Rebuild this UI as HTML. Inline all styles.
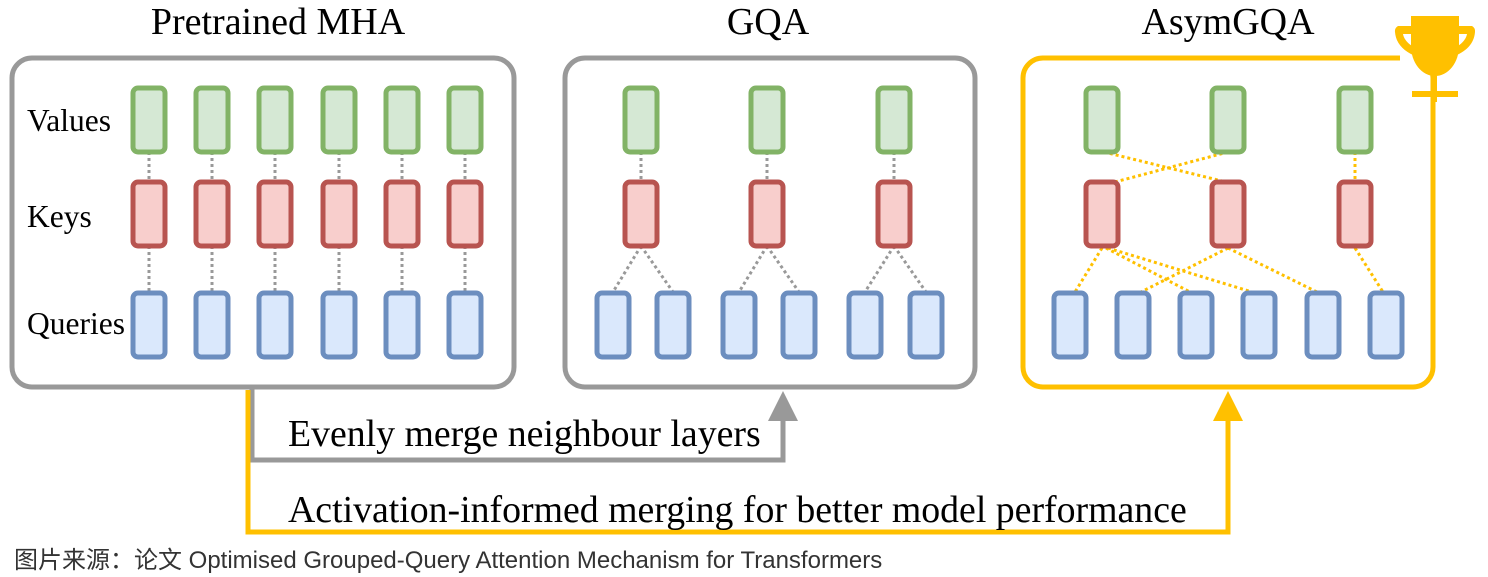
<!DOCTYPE html>
<html><head><meta charset="utf-8"><style>
html,body{margin:0;padding:0;background:#fff;}
svg{display:block;}
</style></head><body>
<svg width="1488" height="577" viewBox="0 0 1488 577" xmlns="http://www.w3.org/2000/svg">
<defs>
<g id="v"><rect x="-16" y="0" width="32" height="64" rx="5" fill="#d5e8d4" stroke="#82b366" stroke-width="5"/></g>
<g id="k"><rect x="-16" y="0" width="32" height="64" rx="5" fill="#f8cecc" stroke="#b85450" stroke-width="5"/></g>
<g id="q"><rect x="-16" y="0" width="32" height="64" rx="5" fill="#dae8fc" stroke="#6c8ebf" stroke-width="5"/></g>
</defs>
<g font-family="Liberation Serif, serif" fill="#000">
<text x="278" y="34" font-size="38" text-anchor="middle">Pretrained MHA</text>
<text x="768" y="34" font-size="38" text-anchor="middle">GQA</text>
<text x="1228" y="34" font-size="38" text-anchor="middle">AsymGQA</text>
</g>
<path d="M252,388 V460 H783 V415" fill="none" stroke="#999" stroke-width="5"/>
<polygon points="783,391 768,421 798,421" fill="#999"/>
<path d="M248,390 V532 H1228 V415" fill="none" stroke="#ffc000" stroke-width="5"/>
<polygon points="1228,391 1213,421 1243,421" fill="#ffc000"/>
<rect x="12" y="58" width="502" height="329" rx="20" fill="#fff" stroke="#999" stroke-width="5"/>
<rect x="565" y="58" width="410" height="329" rx="20" fill="#fff" stroke="#999" stroke-width="5"/>
<rect x="1023" y="58" width="410" height="329" rx="20" fill="#fff" stroke="#ffc000" stroke-width="5"/>
<g font-family="Liberation Serif, serif" fill="#000" font-size="31.5">
<text x="27" y="131">Values</text>
<text x="27" y="227">Keys</text>
<text x="27" y="334">Queries</text>
</g>
<g stroke="#999" stroke-width="3" stroke-dasharray="3,3">
<path d="M149,152V182M212,152V182M275,152V182M339,152V182M402,152V182M465,152V182"/>
<path d="M149,246V292M212,246V292M275,246V292M339,246V292M402,246V292M465,246V292"/>
<path d="M641,246L613,292M641,246L673,292M767,246L739,292M767,246L799,292M894,246L865,292M894,246L926,292"/>
<path d="M641,152V182M767,152V182M894,152V182"/>
</g>
<g stroke="#ffc000" stroke-width="3" stroke-dasharray="3,3">
<path d="M1104,152L1230,183M1228,152L1115,182M1355,152V182"/>
<path d="M1102,248L1075,292M1106,248L1190,292M1108,248L1252,292M1228,248L1141,292M1228,248L1317,292M1355,248L1383,292"/>
</g>
<g>
<use href="#v" x="149" y="88"/><use href="#v" x="212" y="88"/><use href="#v" x="275" y="88"/><use href="#v" x="339" y="88"/><use href="#v" x="402" y="88"/><use href="#v" x="465" y="88"/>
<use href="#k" x="149" y="182"/><use href="#k" x="212" y="182"/><use href="#k" x="275" y="182"/><use href="#k" x="339" y="182"/><use href="#k" x="402" y="182"/><use href="#k" x="465" y="182"/>
<use href="#q" x="149" y="293"/><use href="#q" x="212" y="293"/><use href="#q" x="275" y="293"/><use href="#q" x="339" y="293"/><use href="#q" x="402" y="293"/><use href="#q" x="465" y="293"/>
<use href="#v" x="641" y="88"/><use href="#v" x="767" y="88"/><use href="#v" x="894" y="88"/>
<use href="#k" x="641" y="182"/><use href="#k" x="767" y="182"/><use href="#k" x="894" y="182"/>
<use href="#q" x="613" y="293"/><use href="#q" x="673" y="293"/><use href="#q" x="739" y="293"/><use href="#q" x="799" y="293"/><use href="#q" x="865" y="293"/><use href="#q" x="926" y="293"/>
<use href="#v" x="1102" y="88"/><use href="#v" x="1228" y="88"/><use href="#v" x="1355" y="88"/>
<use href="#k" x="1102" y="182"/><use href="#k" x="1228" y="182"/><use href="#k" x="1355" y="182"/>
<use href="#q" x="1070" y="293"/><use href="#q" x="1133" y="293"/><use href="#q" x="1196" y="293"/><use href="#q" x="1259" y="293"/><use href="#q" x="1323" y="293"/><use href="#q" x="1386" y="293"/>
</g>
<rect x="1400" y="40" width="40" height="30" fill="#fff"/>
<g fill="#ffc000">
<path d="M1411,16 H1459 V46 A24,30 0 0 1 1411,46 Z"/>
<path d="M1412,26 H1398 A6,6 0 0 0 1395,32 C1396,44 1404,52 1418,57 L1418,49 C1410,46 1404,40 1403,34 H1412Z"/>
<path d="M1458,26 H1472 A6,6 0 0 1 1475,32 C1474,44 1466,52 1452,57 L1452,49 C1460,46 1466,40 1467,34 H1458Z"/>
<rect x="1431" y="72" width="6" height="30"/>
<rect x="1412" y="91" width="46" height="6"/>
</g>
<g font-family="Liberation Serif, serif" fill="#000" font-size="37.8">
<text x="288" y="446">Evenly merge neighbour layers</text>
<text x="288" y="522">Activation-informed merging for better model performance</text>
</g>
<text x="14" y="568" font-family="Liberation Sans, Noto Sans CJK SC, sans-serif" font-size="24" fill="#333">图片来源：论文 Optimised Grouped-Query Attention Mechanism for Transformers</text>
</svg>
</body></html>
